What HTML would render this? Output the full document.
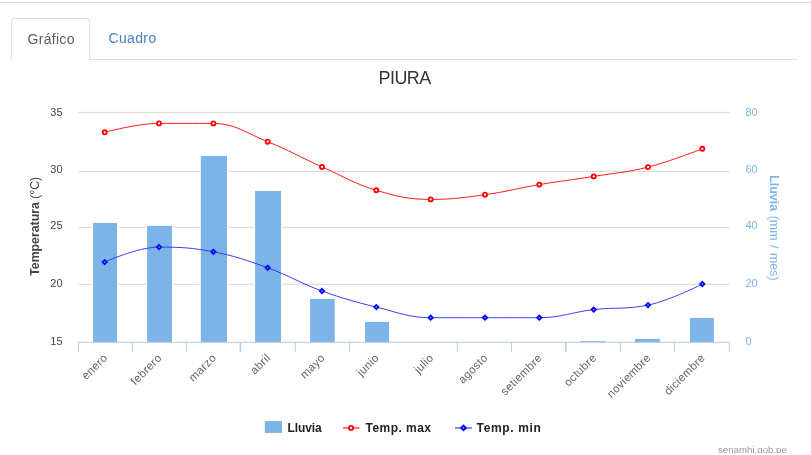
<!DOCTYPE html>
<html lang="es">
<head>
<meta charset="utf-8">
<title>PIURA</title>
<style>
html,body{margin:0;padding:0;background:#fff;}
body{width:811px;height:455px;position:relative;overflow:hidden;font-family:"Liberation Sans",sans-serif;}
.topline{position:absolute;left:0;top:2px;width:811px;height:1px;background:#dcdcdc;}
.tabs{position:absolute;left:11px;top:18px;width:786px;height:41px;border-bottom:1px solid #ddd;box-sizing:content-box;}
.tab{position:absolute;top:0;height:41px;line-height:41px;font-size:14px;box-sizing:border-box;}
.tab.active{letter-spacing:0.3px;left:0;width:79px;height:42px;border:1px solid #ddd;border-bottom:1px solid #fff;border-radius:4px 4px 0 0;color:#5a5f66;padding-left:15.5px;background:#fff;}
.tab.link{letter-spacing:0.35px;left:97.5px;color:#4a80c0;}
</style>
</head>
<body>
<div class="topline"></div>
<div class="tabs">
<div class="tab active">Gráfico</div>
<div class="tab link">Cuadro</div>
</div>
<svg width="811" height="455" viewBox="0 0 811 455" style="position:absolute;left:0;top:0;font-family:'Liberation Sans',sans-serif">
<text x="404.6" y="83.9" text-anchor="middle" font-size="17.9" letter-spacing="-0.5" fill="#333">PIURA</text>
<rect x="78.5" y="111.90" width="650.8" height="1" fill="#d6d6d6"/>
<rect x="78.5" y="170.90" width="650.8" height="1" fill="#d6d6d6"/>
<rect x="78.5" y="226.80" width="650.8" height="1" fill="#d6d6d6"/>
<rect x="78.5" y="283.80" width="650.8" height="1" fill="#d6d6d6"/>
<rect x="91.8" y="221.6" width="26.5" height="120.7" fill="#fff"/>
<rect x="93.1" y="222.9" width="23.9" height="119.4" fill="#7cb4ea"/>
<rect x="145.8" y="224.6" width="27.5" height="117.7" fill="#fff"/>
<rect x="147.1" y="225.9" width="24.9" height="116.4" fill="#7cb4ea"/>
<rect x="199.5" y="154.7" width="28.8" height="187.6" fill="#fff"/>
<rect x="200.8" y="156.0" width="26.2" height="186.3" fill="#7cb4ea"/>
<rect x="253.8" y="189.7" width="28.5" height="152.6" fill="#fff"/>
<rect x="255.1" y="191.0" width="25.9" height="151.3" fill="#7cb4ea"/>
<rect x="308.8" y="297.6" width="27.2" height="44.7" fill="#fff"/>
<rect x="310.1" y="298.9" width="24.6" height="43.4" fill="#7cb4ea"/>
<rect x="363.8" y="320.6" width="26.5" height="21.7" fill="#fff"/>
<rect x="365.1" y="321.9" width="23.9" height="20.4" fill="#7cb4ea"/>
<rect x="578.7" y="339.9" width="28.3" height="2.4" fill="#fff"/>
<rect x="580.0" y="341.2" width="25.7" height="1.1" fill="#7cb4ea"/>
<rect x="633.7" y="337.6" width="27.5" height="4.7" fill="#fff"/>
<rect x="635.0" y="338.9" width="24.9" height="3.4" fill="#7cb4ea"/>
<rect x="688.7" y="316.6" width="26.5" height="25.7" fill="#fff"/>
<rect x="690.0" y="317.9" width="23.9" height="24.4" fill="#7cb4ea"/>
<rect x="78.0" y="341.80" width="651.8" height="1" fill="#bcc9e2"/>
<rect x="78.00" y="342.30" width="1.0" height="9.6" fill="#bfcbe3"/>
<rect x="132.00" y="342.30" width="1.0" height="9.6" fill="#bfcbe3"/>
<rect x="185.90" y="342.30" width="1.0" height="9.6" fill="#bfcbe3"/>
<rect x="239.55" y="342.30" width="1.7" height="9.6" fill="#bfcbe3"/>
<rect x="294.80" y="342.30" width="1.0" height="9.6" fill="#bfcbe3"/>
<rect x="349.00" y="342.30" width="1.0" height="9.6" fill="#bfcbe3"/>
<rect x="456.80" y="342.30" width="1.0" height="9.6" fill="#bfcbe3"/>
<rect x="511.00" y="342.30" width="1.0" height="9.6" fill="#bfcbe3"/>
<rect x="564.95" y="342.30" width="1.7" height="9.6" fill="#bfcbe3"/>
<rect x="619.80" y="342.30" width="1.0" height="9.6" fill="#bfcbe3"/>
<rect x="674.00" y="342.30" width="1.0" height="9.6" fill="#bfcbe3"/>
<rect x="728.80" y="342.30" width="1.0" height="9.6" fill="#bfcbe3"/>
<text x="62.6" y="116.0" text-anchor="end" font-size="11" fill="#434348">35</text>
<text x="62.6" y="173.0" text-anchor="end" font-size="11" fill="#434348">30</text>
<text x="62.6" y="229.0" text-anchor="end" font-size="11" fill="#434348">25</text>
<text x="62.6" y="287.2" text-anchor="end" font-size="11" fill="#434348">20</text>
<text x="62.6" y="345.0" text-anchor="end" font-size="11" fill="#434348">15</text>
<text x="745.4" y="116.0" font-size="11" fill="#7cb5ec">80</text>
<text x="745.4" y="173.0" font-size="11" fill="#7cb5ec">60</text>
<text x="745.4" y="229.0" font-size="11" fill="#7cb5ec">40</text>
<text x="745.4" y="287.2" font-size="11" fill="#7cb5ec">20</text>
<text x="745.4" y="345.0" font-size="11" fill="#7cb5ec">0</text>
<text transform="translate(39.0,226.3) rotate(-90)" text-anchor="middle" font-size="12.3" fill="#434348"><tspan font-weight="bold">Temperatura</tspan> (°C)</text>
<text transform="translate(769.6,227.9) rotate(90)" text-anchor="middle" font-size="12.3" letter-spacing="0.08" word-spacing="1.0" fill="#7cb5ec"><tspan font-weight="bold">Lluvia</tspan> (mm / mes)</text>
<text transform="translate(108.2,358.5) rotate(-45)" text-anchor="end" font-size="11.5" letter-spacing="0.3" fill="#666">enero</text>
<text transform="translate(162.5,358.5) rotate(-45)" text-anchor="end" font-size="11.5" letter-spacing="0.3" fill="#666">febrero</text>
<text transform="translate(216.9,358.5) rotate(-45)" text-anchor="end" font-size="11.5" letter-spacing="0.3" fill="#666">marzo</text>
<text transform="translate(271.2,358.5) rotate(-45)" text-anchor="end" font-size="11.5" letter-spacing="0.3" fill="#666">abril</text>
<text transform="translate(325.5,358.5) rotate(-45)" text-anchor="end" font-size="11.5" letter-spacing="0.3" fill="#666">mayo</text>
<text transform="translate(379.8,358.5) rotate(-45)" text-anchor="end" font-size="11.5" letter-spacing="0.3" fill="#666">junio</text>
<text transform="translate(434.2,358.5) rotate(-45)" text-anchor="end" font-size="11.5" letter-spacing="0.3" fill="#666">julio</text>
<text transform="translate(488.5,358.5) rotate(-45)" text-anchor="end" font-size="11.5" letter-spacing="0.3" fill="#666">agosto</text>
<text transform="translate(542.8,358.5) rotate(-45)" text-anchor="end" font-size="11.5" letter-spacing="0.3" fill="#666">setiembre</text>
<text transform="translate(597.2,358.5) rotate(-45)" text-anchor="end" font-size="11.5" letter-spacing="0.3" fill="#666">octubre</text>
<text transform="translate(651.5,358.5) rotate(-45)" text-anchor="end" font-size="11.5" letter-spacing="0.3" fill="#666">noviembre</text>
<text transform="translate(705.8,358.5) rotate(-45)" text-anchor="end" font-size="11.5" letter-spacing="0.3" fill="#666">diciembre</text>
<path d="M 104.70 132.30 C 104.70 132.30 137.30 123.40 159.03 123.40 C 180.76 123.40 191.63 123.40 213.36 123.40 C 235.09 123.40 245.96 133.00 267.69 141.70 C 289.42 150.40 300.29 157.18 322.02 166.90 C 343.75 176.62 354.62 183.80 376.35 190.30 C 398.08 196.80 408.95 199.40 430.68 199.40 C 452.41 199.40 463.28 197.66 485.01 194.70 C 506.74 191.74 517.61 188.26 539.34 184.60 C 561.07 180.94 571.94 179.90 593.67 176.40 C 615.40 172.90 626.27 172.62 648.00 167.10 C 669.73 161.58 702.33 148.80 702.33 148.80" fill="none" stroke="#ff1010" stroke-width="0.95" stroke-linecap="round"/>
<circle cx="104.7" cy="132.3" r="2.05" fill="#fff" stroke="#ff0000" stroke-width="1.8"/>
<circle cx="159.0" cy="123.4" r="2.05" fill="#fff" stroke="#ff0000" stroke-width="1.8"/>
<circle cx="213.4" cy="123.4" r="2.05" fill="#fff" stroke="#ff0000" stroke-width="1.8"/>
<circle cx="267.7" cy="141.7" r="2.05" fill="#fff" stroke="#ff0000" stroke-width="1.8"/>
<circle cx="322.0" cy="166.9" r="2.05" fill="#fff" stroke="#ff0000" stroke-width="1.8"/>
<circle cx="376.3" cy="190.3" r="2.05" fill="#fff" stroke="#ff0000" stroke-width="1.8"/>
<circle cx="430.7" cy="199.4" r="2.05" fill="#fff" stroke="#ff0000" stroke-width="1.8"/>
<circle cx="485.0" cy="194.7" r="2.05" fill="#fff" stroke="#ff0000" stroke-width="1.8"/>
<circle cx="539.3" cy="184.6" r="2.05" fill="#fff" stroke="#ff0000" stroke-width="1.8"/>
<circle cx="593.7" cy="176.4" r="2.05" fill="#fff" stroke="#ff0000" stroke-width="1.8"/>
<circle cx="648.0" cy="167.1" r="2.05" fill="#fff" stroke="#ff0000" stroke-width="1.8"/>
<circle cx="702.3" cy="148.8" r="2.05" fill="#fff" stroke="#ff0000" stroke-width="1.8"/>
<path d="M 104.70 262.10 C 104.70 262.10 137.30 247.10 159.03 247.10 C 180.76 247.10 191.63 247.66 213.36 251.80 C 235.09 255.94 245.96 259.96 267.69 267.80 C 289.42 275.64 300.29 283.14 322.02 291.00 C 343.75 298.86 354.62 301.76 376.35 307.10 C 398.08 312.44 408.95 317.70 430.68 317.70 C 452.41 317.70 463.28 317.70 485.01 317.70 C 506.74 317.70 517.61 317.70 539.34 317.70 C 561.07 317.70 571.94 312.12 593.67 309.60 C 615.40 307.08 626.27 309.60 648.00 305.10 C 669.73 300.60 702.33 284.10 702.33 284.10" fill="none" stroke="#3434f0" stroke-width="0.95" stroke-linecap="round"/>
<path d="M 104.7 258.7 L 108.1 262.1 L 104.7 265.5 L 101.3 262.1 Z" fill="#0000ff"/>
<circle cx="104.7" cy="262.1" r="0.8" fill="#9a9aff"/>
<path d="M 159.0 243.7 L 162.4 247.1 L 159.0 250.5 L 155.6 247.1 Z" fill="#0000ff"/>
<circle cx="159.0" cy="247.1" r="0.8" fill="#9a9aff"/>
<path d="M 213.4 248.4 L 216.8 251.8 L 213.4 255.2 L 210.0 251.8 Z" fill="#0000ff"/>
<circle cx="213.4" cy="251.8" r="0.8" fill="#9a9aff"/>
<path d="M 267.7 264.4 L 271.1 267.8 L 267.7 271.2 L 264.3 267.8 Z" fill="#0000ff"/>
<circle cx="267.7" cy="267.8" r="0.8" fill="#9a9aff"/>
<path d="M 322.0 287.6 L 325.4 291.0 L 322.0 294.4 L 318.6 291.0 Z" fill="#0000ff"/>
<circle cx="322.0" cy="291.0" r="0.8" fill="#9a9aff"/>
<path d="M 376.3 303.7 L 379.7 307.1 L 376.3 310.5 L 372.9 307.1 Z" fill="#0000ff"/>
<circle cx="376.3" cy="307.1" r="0.8" fill="#9a9aff"/>
<path d="M 430.7 314.3 L 434.1 317.7 L 430.7 321.1 L 427.3 317.7 Z" fill="#0000ff"/>
<circle cx="430.7" cy="317.7" r="0.8" fill="#9a9aff"/>
<path d="M 485.0 314.3 L 488.4 317.7 L 485.0 321.1 L 481.6 317.7 Z" fill="#0000ff"/>
<circle cx="485.0" cy="317.7" r="0.8" fill="#9a9aff"/>
<path d="M 539.3 314.3 L 542.7 317.7 L 539.3 321.1 L 535.9 317.7 Z" fill="#0000ff"/>
<circle cx="539.3" cy="317.7" r="0.8" fill="#9a9aff"/>
<path d="M 593.7 306.2 L 597.1 309.6 L 593.7 313.0 L 590.3 309.6 Z" fill="#0000ff"/>
<circle cx="593.7" cy="309.6" r="0.8" fill="#9a9aff"/>
<path d="M 648.0 301.7 L 651.4 305.1 L 648.0 308.5 L 644.6 305.1 Z" fill="#0000ff"/>
<circle cx="648.0" cy="305.1" r="0.8" fill="#9a9aff"/>
<path d="M 702.3 280.7 L 705.7 284.1 L 702.3 287.5 L 698.9 284.1 Z" fill="#0000ff"/>
<circle cx="702.3" cy="284.1" r="0.8" fill="#9a9aff"/>
<rect x="264.8" y="421.1" width="17.2" height="11.8" fill="#7cb4ea"/>
<text x="287.6" y="431.6" font-size="12" font-weight="bold" fill="#222" letter-spacing="-0.1">Lluvia</text>
<rect x="343" y="426.95" width="16.5" height="1.9" fill="#ff7070"/>
<circle cx="351.1" cy="427.9" r="2.05" fill="#fff" stroke="#ff0000" stroke-width="1.8"/>
<text x="365.6" y="431.6" font-size="12" font-weight="bold" fill="#222" letter-spacing="0.45">Temp. max</text>
<rect x="455" y="426.95" width="16.9" height="1.9" fill="#8080ff"/>
<path d="M 463.5 424.3 L 467.1 427.9 L 463.5 431.5 L 459.9 427.9 Z" fill="#0000ff"/>
<circle cx="463.5" cy="427.9" r="0.8" fill="#9a9aff"/>
<text x="476.6" y="431.6" font-size="12" font-weight="bold" fill="#222" letter-spacing="0.65">Temp. min</text>
<text x="786.9" y="452.6" text-anchor="end" font-size="9.7" fill="#999">senamhi.gob.pe</text>
<rect x="700" y="453.2" width="111" height="2" fill="#fff"/>
</svg>
</body>
</html>
